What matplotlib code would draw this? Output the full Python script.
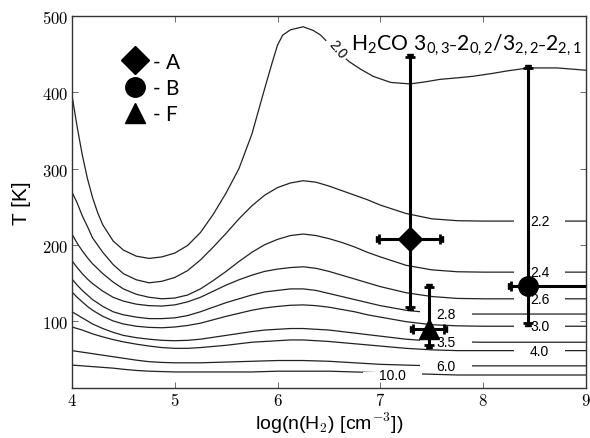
import numpy as np
import matplotlib
matplotlib.use('Agg')
import matplotlib.pyplot as plt
import matplotlib.patches as patches
from matplotlib.lines import Line2D
from matplotlib.ticker import FuncFormatter

plt.rcParams['mathtext.fontset'] = 'cm'

# contour levels of the H2CO line ratio
levels = ['2.2', '2.4', '2.6', '2.8', '3.0', '3.5', '4.0', '6.0', '10.0']
logn = [4.0, 4.05, 4.1, 4.15, 4.2, 4.3, 4.4, 4.5, 4.625, 4.75, 4.875, 5.0, 5.125, 5.25,
        5.375, 5.5, 5.625, 5.75, 5.875, 6.0, 6.125, 6.25, 6.375, 6.5, 6.625, 6.75, 6.875,
        7.0, 7.25, 7.5, 7.75, 8.0, 8.5, 9.0]
T_22 = [269, 255, 238, 224, 209, 190, 174, 162, 154, 150, 152, 157, 166, 180,
        197, 215, 234, 251, 265, 275, 281, 284, 282, 277, 271, 265, 259,
        252, 241, 234, 231.5, 231, 231, 231]
T_24 = [214, 202, 192, 183, 175, 162, 151, 142, 135, 131, 129, 130, 134, 142,
        153, 165, 178, 190, 200, 207, 212, 214, 212, 208, 203, 197, 190,
        184, 173, 167, 164.5, 164, 164, 164]
T_26 = [179, 170, 162, 155, 149, 139, 131, 126, 122, 120, 119.5, 121, 125, 131,
        139, 147, 154, 160, 165, 168, 170, 171, 169, 165, 160, 155, 150,
        145, 137, 132, 129.5, 129, 129, 129]
T_28 = [155, 147, 140, 134, 128, 119, 112, 108, 105, 103, 103, 104, 107, 112,
        118, 124, 129, 134, 138, 140, 142, 142, 140, 136, 132, 128, 124,
        120, 114, 110.5, 109, 109, 109, 109]
T_30 = [138, 131, 125, 119, 114, 106, 100, 96, 93, 91.5, 91, 92, 94, 97,
        101.5, 106, 110, 114, 117, 119, 120.5, 121, 120, 118, 115, 112, 108,
        105, 99, 95, 93.5, 93, 93, 93]
T_35 = [112, 108, 104, 100, 96, 90, 85, 81, 78, 76, 74.5, 74, 74.5, 76,
        78.5, 81, 83.5, 86, 88, 89, 90, 90, 89, 88, 86, 84, 82,
        80, 76, 73.5, 72.5, 72, 72, 72]
T_40 = [92, 90, 88, 85.5, 83, 79, 75.5, 72.5, 69.5, 67, 65, 64, 64, 65,
        66.5, 68, 70, 72, 73, 74, 75, 75, 74, 73, 71.5, 70, 68.5,
        67, 64, 62, 61, 61, 61, 61]
T_60 = [61, 60, 59, 58, 57, 55, 53, 51, 48.5, 46.5, 45.5, 45, 45, 45,
        45.5, 46, 46.5, 47, 47.5, 48, 48, 48, 47.5, 47, 46, 45, 44,
        43, 42, 41, 41, 41, 41, 41]
T_100 = [42, 41.5, 41, 40.5, 40, 39, 38, 36.5, 35, 34, 33.5, 33, 33, 33,
         33, 33, 33, 33, 33.5, 34, 34, 34, 34, 34, 33.5, 33, 32.5,
         32, 31, 30, 29, 29, 29, 29]
contours = [T_22, T_24, T_26, T_28, T_30, T_35, T_40, T_60, T_100]

# the 2.0 contour has its own sampling (steep rise)
logn_20 = [4.0, 4.05, 4.1, 4.15, 4.2, 4.25, 4.3, 4.4, 4.5, 4.625, 4.75, 4.875, 5.0,
           5.125, 5.25, 5.375, 5.5, 5.625, 5.75, 5.875, 5.95, 6.0, 6.05, 6.125, 6.25,
           6.35, 6.42, 6.55, 6.7, 6.8, 6.93, 7.1, 7.29, 7.45, 7.58, 7.75, 7.9, 8.1,
           8.23, 8.44, 8.72, 9.0]
T_20 = [396, 355, 318, 287, 262, 242, 226, 205, 193, 185, 182, 184, 189,
        199, 216, 240, 268, 300, 345, 405, 440, 462, 475, 482, 486,
        481, 475, 457, 440, 431, 421, 413, 411, 414, 417, 419, 421, 425,
        428, 432, 432, 429]

# sources
src_names = ['A', 'B', 'F']
src_n = [7.29, 8.44, 7.47]
src_T = [207, 146, 90]
src_n_lo = [0.30, 0.17, 0.15]
src_n_hi = [0.29, 0.80, 0.15]
src_T_lo = [89, 49, 21]
src_T_hi = [240, 286, 55]
src_marker = ['D', 'o', '^']
src_ms = [12, 14, 14]

# label placement for the contours (x, T, gap width)
lab_pos = [(8.55, 231), (8.55, 164), (8.55, 129), (7.64, 109), (8.55, 93),
           (7.64, 72), (8.55, 61), (7.64, 41), (7.12, 29)]
lab_w = [0.5, 0.5, 0.5, 0.5, 0.5, 0.5, 0.5, 0.5, 0.58]

fig = plt.figure(figsize=(5.9, 4.39), dpi=100)
ax = fig.add_axes([0.122, 0.114, 0.871, 0.847])

ax.plot(logn_20, T_20, color='#222222', lw=0.9, zorder=1)
for T in contours:
    ax.plot(logn, T, color='#222222', lw=0.9, zorder=1)

# contour labels with a gap cut into the line
for lev, (lx, ly), w in zip(levels, lab_pos, lab_w):
    ax.add_patch(patches.Rectangle((lx - w / 2, ly - 4), w, 8, fc='white', ec='none', zorder=2))
    ax.text(lx, ly, lev, fontsize=10, family='Liberation Sans', ha='center', va='center', zorder=3)
ax.text(6.58, 457, '2.0', fontsize=10, family='Liberation Sans', ha='center', va='center',
        rotation=-50, zorder=3, bbox=dict(fc='white', ec='none', pad=2.5))

# error bars with inward pointing caps
for i in range(3):
    x, y = src_n[i], src_T[i]
    ax.errorbar(x, y, xerr=[[src_n_lo[i]], [src_n_hi[i]]], yerr=[[src_T_lo[i]], [src_T_hi[i]]],
                fmt=src_marker[i], ms=src_ms[i], color='k', elinewidth=2.2,
                capsize=3.5, capthick=2, zorder=5)
    ax.plot(x, y + src_T_hi[i], 'v', color='k', ms=4, zorder=5)
    ax.plot(x, y - src_T_lo[i], '^', color='k', ms=4, zorder=5)
    ax.plot(x - src_n_lo[i], y, '>', color='k', ms=4, zorder=5)
    ax.plot(x + src_n_hi[i], y, '<', color='k', ms=4, zorder=5)

handles = [Line2D([], [], marker=m, ls='none', color='k', ms=s)
           for m, s in zip(src_marker, [14, 14, 15])]
ax.legend(handles, ['- ' + n for n in src_names], loc='upper left',
          bbox_to_anchor=(0.065, 0.955), frameon=False, handlelength=1.0,
          handletextpad=0.4, labelspacing=0.3, prop={'family': 'Lato', 'size': 15})

ax.text(0.543, 0.911, r'$\mathregular{H_2CO\ 3_{0,3}\text{-}2_{0,2}/3_{2,2}\text{-}2_{2,1}}$',
        transform=ax.transAxes, fontsize=15.2, family='Lato', va='baseline', ha='left')

ax.set_xlim(4, 9)
ax.set_ylim(12, 500)
ax.set_xticks([4, 5, 6, 7, 8, 9])
ax.set_yticks([100, 200, 300, 400, 500])
fmt = FuncFormatter(lambda v, p: '$%g$' % v)
ax.xaxis.set_major_formatter(fmt)
ax.yaxis.set_major_formatter(fmt)
ax.tick_params(direction='in', top=True, right=True, length=4, width=0.6,
               labelsize=12, pad=2.5, color='#555555')
for s in ax.spines.values():
    s.set_linewidth(1.0)
    s.set_color('#333333')

ax.set_xlabel(r'log(n(H$_2$) [cm$^{-3}$])', fontsize=14, family='Liberation Sans', labelpad=0.5)
ax.set_ylabel('T [K]', fontsize=15, family='Liberation Sans', labelpad=8)

fig.savefig('out.png', dpi=100)
